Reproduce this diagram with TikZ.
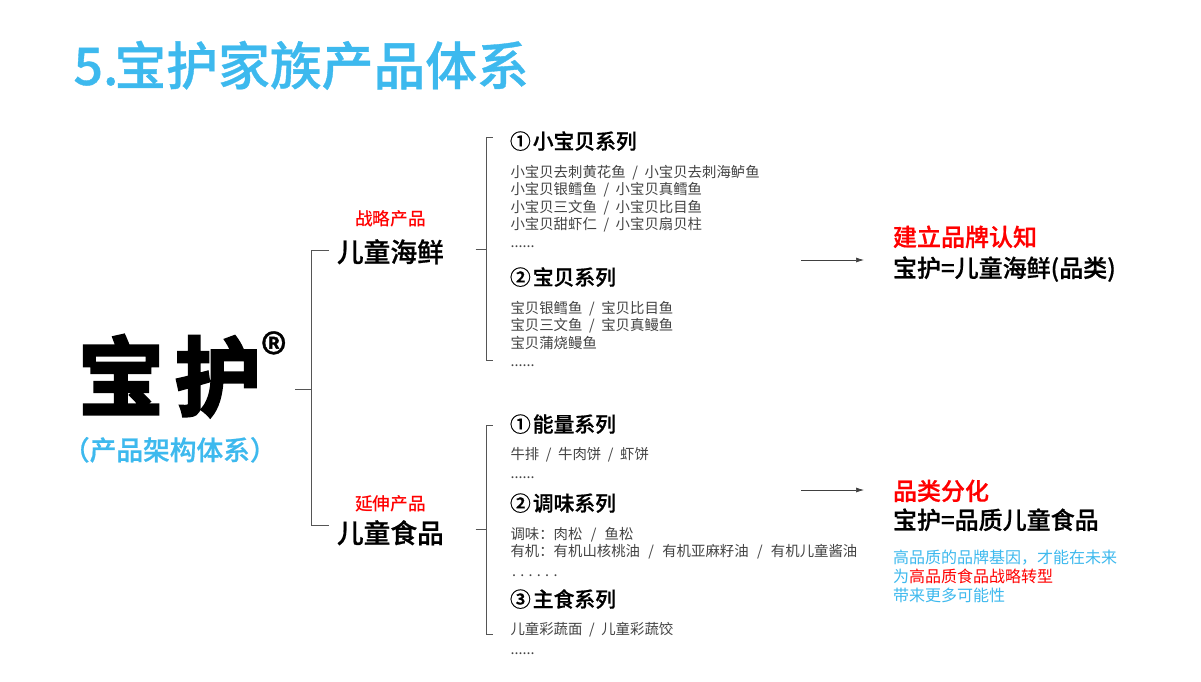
\documentclass[tikz,border=0pt]{standalone}
\usepackage{fontspec}
\setmainfont{Noto Sans CJK SC}
\newfontfamily\logofont[FakeBold=3.2]{Noto Sans CJK SC Bold}
\newfontfamily\medfont[FakeBold=0.7]{Noto Sans CJK SC Medium}
\newfontfamily\regfont{Noto Sans CJK SC Medium}
\usetikzlibrary{arrows.meta}
\definecolor{skyblue}{HTML}{3DB9EE}
\definecolor{linegray}{HTML}{555555}
\definecolor{itemgray}{HTML}{444444}
\newcommand{\fsz}[1]{\fontsize{#1}{#1}\selectfont}
\newcommand{\sep}{\hspace{6.6pt}/\hspace{6.6pt}}
\newcommand{\wsep}{\hspace{8.3pt}/\hspace{8.3pt}}
\tikzset{
  txt/.style={anchor=base west,inner sep=0pt,outer sep=0pt},
  titletxt/.style={txt,text=skyblue,font=\fsz{51.8}\medfont},
  logotxt/.style={txt,text=black,font=\fsz{86}\logofont},
  subtxt/.style={txt,text=skyblue,font=\fsz{26.7}\medfont},
  branchtxt/.style={txt,text=black,font=\fsz{26.7}\medfont},
  tagtxt/.style={txt,text=red,font=\fsz{17.7}\regfont},
  headtxt/.style={txt,text=black,font=\fsz{20.8}\medfont},
  itemtxt/.style={txt,text=itemgray,font=\fsz{14.4}},
  outredtxt/.style={txt,text=red,font=\fsz{24}\medfont},
  outblacktxt/.style={txt,text=black,font=\fsz{24}\medfont},
  notetxt/.style={txt,text=skyblue,font=\fsz{16}},
  tree/.style={draw=linegray,line width=0.9pt},
  flow/.style={draw=black!75,line width=0.7pt,-{Latex[length=8pt,width=5pt]}}
}
\begin{document}
\begin{tikzpicture}[x=1pt,y=-1pt]
\useasboundingbox (0,0) rectangle (1201,681);
\fill[white] (0,0) rectangle (1201,681);

\node[titletxt] (title) at (73.5,85) {5.\hspace{-4pt}宝护家族产品体系};
\node[logotxt] (logoa) at (78,409) {宝};
\node[logotxt] (logob) at (175,409) {护};
\node[txt,font=\fsz{52}\medfont] (reg) at (261,373) {®};
\node[subtxt] (sub) at (63,460) {（产品架构体系）};

\node[tagtxt] (tag1) at (355,225.5) {战略产品};
\node[branchtxt] (br1) at (337,262) {儿童海鲜};
\node[tagtxt] (tag2) at (355,510) {延伸产品};
\node[branchtxt] (br2) at (337,543) {儿童食品};

\node[headtxt] (h1) at (510,149) {①\hspace{2pt}小宝贝系列};
\node[itemtxt] (i11) at (510.5,177) {小宝贝去刺黄花鱼\sep 小宝贝去刺海鲈鱼};
\node[itemtxt] (i12) at (510.5,194.5) {小宝贝银鳕鱼\sep 小宝贝真鳕鱼};
\node[itemtxt] (i13) at (510.5,212) {小宝贝三文鱼\sep 小宝贝比目鱼};
\node[itemtxt] (i14) at (510.5,229) {小宝贝甜虾仁\sep 小宝贝扇贝柱};
\node[itemtxt] (i15) at (510.5,247) {......};

\node[headtxt] (h2) at (510,285) {②\hspace{2pt}宝贝系列};
\node[itemtxt] (i21) at (510.5,313) {宝贝银鳕鱼\sep 宝贝比目鱼};
\node[itemtxt] (i22) at (510.5,330) {宝贝三文鱼\sep 宝贝真鳗鱼};
\node[itemtxt] (i23) at (510.5,348) {宝贝蒲烧鳗鱼};
\node[itemtxt] (i24) at (510.5,366) {......};

\node[headtxt] (h3) at (510,432) {①\hspace{2pt}能量系列};
\node[itemtxt] (i31) at (510.5,459) {牛排\sep 牛肉饼\sep 虾饼};
\node[itemtxt] (i32) at (510.5,478) {......};

\node[headtxt] (h4) at (510,511) {②\hspace{2pt}调味系列};
\node[itemtxt] (i41) at (510.5,539) {调味：肉松\wsep 鱼松};
\node[itemtxt] (i42) at (510.5,556.5) {有机：有机山核桃油\wsep 有机亚麻籽油\wsep 有机儿童酱油};
\node[itemtxt] (i43) at (512,576) {. . . . . .};

\node[headtxt] (h5) at (510,607) {③\hspace{2pt}主食系列};
\node[itemtxt] (i51) at (510.5,634) {儿童彩蔬面\sep 儿童彩蔬饺};
\node[itemtxt] (i52) at (510.5,654) {......};

\node[outredtxt] (o1) at (893,246) {建立品牌认知};
\node[outblacktxt] (o2) at (893,277) {宝护=儿童海鲜(品类)};
\node[outredtxt] (o3) at (893,500) {品类分化};
\node[outblacktxt] (o4) at (893,529) {宝护=品质儿童食品};
\node[notetxt] (n1) at (893,563) {高品质的品牌基因，才能在未来};
\node[notetxt] (n2) at (893,582) {为\textcolor{red}{高品质食品战略转型}};
\node[notetxt] (n3) at (893,601) {带来更多可能性};

% main tree
\coordinate (rootstub) at (295,389.5);
\coordinate (roottrunk) at (311,389.5);
\coordinate (t1) at (329,250);
\coordinate (t2) at (329,525);
\draw[tree] (rootstub) -- (roottrunk);
\draw[tree] (t1) -- (t1 -| roottrunk) -- (t2 -| roottrunk) -- (t2);

% upper bracket
\coordinate (b1s) at (475.5,249);
\coordinate (b1t) at (492.5,137);
\coordinate (b1b) at (492.5,360);
\coordinate (b1x) at (486.5,249);
\draw[tree] (b1s) -- (b1x);
\draw[tree] (b1t) -- (b1t -| b1x) -- (b1b -| b1x) -- (b1b);

% lower bracket
\coordinate (b2s) at (475.5,529);
\coordinate (b2t) at (492.5,425.5);
\coordinate (b2b) at (492.5,634);
\coordinate (b2x) at (486.5,529);
\draw[tree] (b2s) -- (b2x);
\draw[tree] (b2t) -- (b2t -| b2x) -- (b2b -| b2x) -- (b2b);

% arrows
\coordinate (a1s) at (801,260);
\coordinate (a1e) at (864,260);
\coordinate (a2s) at (801,490);
\coordinate (a2e) at (864,490);
\draw[flow] (a1s) -- (a1e);
\draw[flow] (a2s) -- (a2e);
\end{tikzpicture}
\end{document}
